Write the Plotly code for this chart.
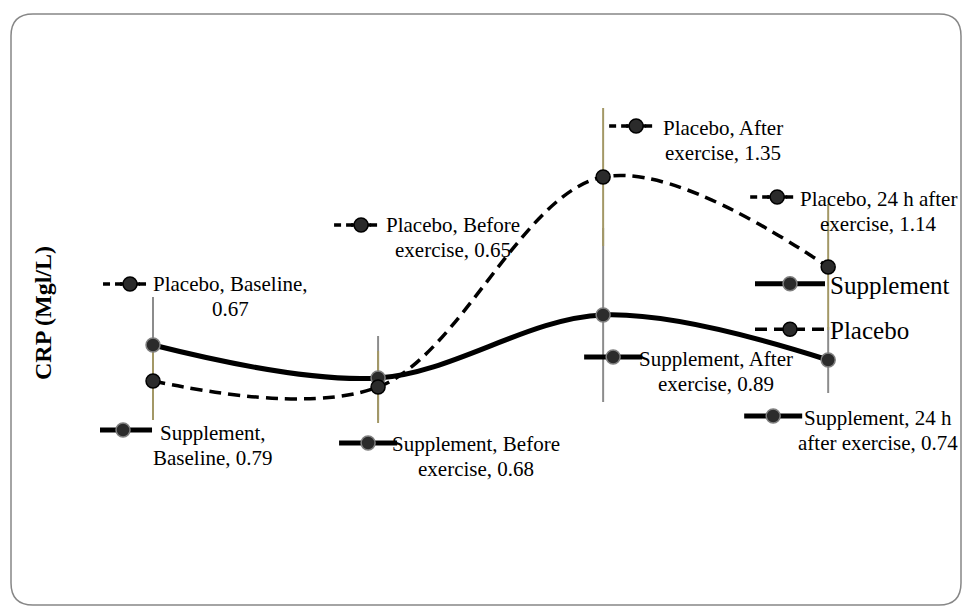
import textwrap
import plotly.graph_objects as go

# ---------------- data ----------------
categories = ["Baseline", "Before exercise", "After exercise", "24 h after exercise"]
supplement = [0.79, 0.68, 0.89, 0.74]
supplement_err = [0.16, 0.14, 0.29, 0.11]
placebo = [0.67, 0.65, 1.35, 1.05]          # plotted position
placebo_label_values = [0.67, 0.65, 1.35, 1.14]  # values printed in the data labels
placebo_err = [0.13, 0.12, 0.23, 0.21]
series_names = ["Supplement", "Placebo"]

# ---------------- layout constants ----------------
W, H = 962, 606
ML, MR, MT, MB = 100, 60, 60, 60
PW, PH = W - ML - MR, H - MT - MB
FONT = "Liberation Serif"
SUPP_ERR_COLOR = "#8c8c8c"
PLAC_ERR_COLOR = "#a39866"
DASH = "12px,7px"
KEY_DASH = "7px,5px"
LABEL_SIZE = 21
LINE_GAP = 25


def px2paper(px, py):
    return (px - ML) / PW, 1 - (py - MT) / PH


fig = go.Figure()

# error bars first (below lines), supplement then placebo
fig.add_trace(go.Scatter(
    x=categories, y=supplement, mode="markers", showlegend=False, hoverinfo="skip",
    marker=dict(size=1, color="rgba(0,0,0,0)"),
    error_y=dict(type="data", array=supplement_err, visible=True,
                 color=SUPP_ERR_COLOR, thickness=2, width=0)))
fig.add_trace(go.Scatter(
    x=categories, y=placebo, mode="markers", showlegend=False, hoverinfo="skip",
    marker=dict(size=1, color="rgba(0,0,0,0)"),
    error_y=dict(type="data", array=placebo_err, visible=True,
                 color=PLAC_ERR_COLOR, thickness=2, width=0)))

fig.add_trace(go.Scatter(
    x=categories, y=supplement, mode="lines+markers", name=series_names[0],
    legendgroup="s",
    line=dict(color="black", width=5, shape="spline", smoothing=1.0),
    marker=dict(size=14, color="#2b2b2b", line=dict(color="#7f7f7f", width=1.5))))
fig.add_trace(go.Scatter(
    x=categories, y=placebo, mode="lines+markers", name=series_names[1],
    legendgroup="p",
    line=dict(color="black", width=3.5, dash=DASH, shape="spline", smoothing=1.0),
    marker=dict(size=14, color="#2b2b2b", line=dict(color="black", width=1.5))))

# ---------------- data labels with legend keys ----------------
# offsets in pixels relative to each point: key marker centre and text centre (dx, dy-down)
supp_key_off = [(-30, 85), (-10, 65), (10, 42), (-55, 56)]
supp_txt_off = [(60, 100), (98, 78), (113, 56.5), (50, 70.5)]
plac_key_off = [(-23, -97), (-17, -162), (33, -51), (-51, -70)]
plac_txt_off = [(77, -84.5), (75, -149.5), (120, -36.5), (50, -56)]

shapes = []
annotations = []


def add_label(cat, yval, lines, key_off, txt_off, dashed, mline):
    kx, ky = key_off
    tx, ty = txt_off
    if dashed:
        l0, l1, lw = kx - 27, kx + 21, 3.5
        dash = KEY_DASH
    else:
        l0, l1, lw = kx - 29, kx + 29, 5
        dash = "solid"
    shapes.append(dict(type="line", xref="x", yref="y", xsizemode="pixel", ysizemode="pixel",
                       xanchor=cat, yanchor=yval, x0=l0, x1=l1, y0=-ky, y1=-ky,
                       line=dict(color="black", width=lw, dash=dash)))
    if dashed:
        shapes.append(dict(type="line", xref="x", yref="y", xsizemode="pixel",
                           ysizemode="pixel", xanchor=cat, yanchor=yval,
                           x0=kx - 10, x1=kx + 10, y0=-ky, y1=-ky,
                           line=dict(color="black", width=lw)))
    shapes.append(dict(type="circle", xref="x", yref="y", xsizemode="pixel", ysizemode="pixel",
                       xanchor=cat, yanchor=yval, x0=kx - 7, x1=kx + 7, y0=-ky - 7, y1=-ky + 7,
                       fillcolor="#2b2b2b", line=dict(color=mline, width=1.5)))
    n = len(lines)
    for j, line in enumerate(lines):
        dy = ty + (j - (n - 1) / 2) * LINE_GAP
        annotations.append(dict(x=cat, y=yval, xref="x", yref="y", text=line, showarrow=False,
                                xshift=tx, yshift=-dy, xanchor="center", yanchor="middle",
                                align="center",
                                font=dict(family=FONT, size=LABEL_SIZE, color="black")))


for i, cat in enumerate(categories):
    s_lines = textwrap.wrap(f"{series_names[0]}, {cat}, {supplement[i]:.2f}", 20)
    add_label(cat, supplement[i], s_lines, supp_key_off[i], supp_txt_off[i], False, "#7f7f7f")
for i, cat in enumerate(categories):
    p_lines = textwrap.wrap(f"{series_names[1]}, {cat}, {placebo_label_values[i]:.2f}", 20)
    add_label(cat, placebo[i], p_lines, plac_key_off[i], plac_txt_off[i], True, "black")

# y axis title
tx, ty = px2paper(43, 313)
annotations.append(dict(x=tx, y=ty, xref="paper", yref="paper", text="<b>CRP (Mgl/L)</b>",
                        textangle=-90, showarrow=False, xanchor="center", yanchor="middle",
                        font=dict(family=FONT, size=24, color="black")))

# rounded chart frame
x0p, y0p, x1p, y1p, r = 11, 14, 961, 605, 22


def P(px, py):
    a, b = px2paper(px, py)
    return f"{a:.5f},{b:.5f}"


path = (f"M {P(x0p + r, y0p)} L {P(x1p - r, y0p)} Q {P(x1p, y0p)} {P(x1p, y0p + r)} "
        f"L {P(x1p, y1p - r)} Q {P(x1p, y1p)} {P(x1p - r, y1p)} "
        f"L {P(x0p + r, y1p)} Q {P(x0p, y1p)} {P(x0p, y1p - r)} "
        f"L {P(x0p, y0p + r)} Q {P(x0p, y0p)} {P(x0p + r, y0p)} Z")
shapes.append(dict(type="path", xref="paper", yref="paper", path=path,
                   line=dict(color="#878787", width=1.5), layer="below"))

lx, ly = px2paper(750, 261)
fig.update_layout(
    width=W, height=H, autosize=False,
    margin=dict(l=ML, r=MR, t=MT, b=MB, autoexpand=False),
    paper_bgcolor="white", plot_bgcolor="white",
    xaxis=dict(type="category", range=[-0.2356, 3.328], visible=False, showgrid=False),
    yaxis=dict(range=[0.12, 1.74], visible=False, showgrid=False),
    showlegend=True,
    legend=dict(x=lx, y=ly, xanchor="left", yanchor="top", bgcolor="rgba(0,0,0,0)",
                font=dict(family=FONT, size=25, color="black"), itemwidth=70,
                traceorder="grouped", tracegroupgap=10),
    shapes=shapes, annotations=annotations,
    font=dict(family=FONT),
)

fig.write_html("out.html", config={"displayModeBar": False},
               post_script="document.body.style.margin='0';document.body.style.overflow='hidden';")
